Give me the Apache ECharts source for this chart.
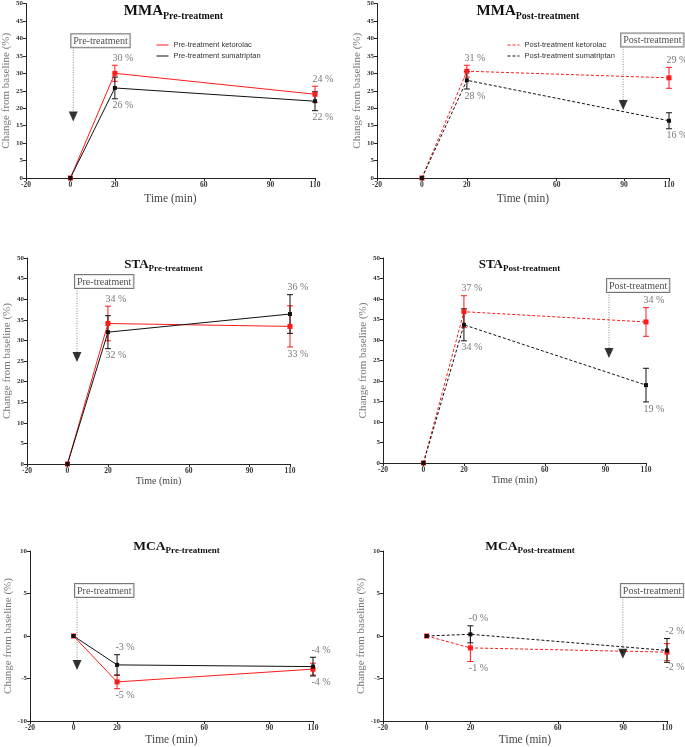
<!DOCTYPE html>
<html>
<head>
<meta charset="utf-8">
<script src="https://cdn.jsdelivr.net/npm/echarts@6/dist/echarts.min.js"></script>
<style>
  html, body { margin: 0; padding: 0; background: #fff; }
  #main { width: 685px; height: 747px; }
</style>
</head>
<body>
<div id="main"></div>
<script>
// time points and x tick labels
const times = [0, 20, 110];
const xTicks = [-20, 0, 20, 60, 90, 110];

// MMA pre-treatment
const mmaPreKet = [0, 30.0, 24.0];
const mmaPreKetErr = [0, 2.3, 2.3];
const mmaPreSum = [0, 25.8, 22.0];
const mmaPreSumErr = [0, 3.1, 2.7];
const mmaPreKetLbl = ['', '30 %', '24 %'];
const mmaPreSumLbl = ['', '26 %', '22 %'];

// MMA post-treatment
const mmaPostKet = [0, 30.6, 28.7];
const mmaPostKetErr = [0, 1.7, 3.0];
const mmaPostSum = [0, 28.0, 16.4];
const mmaPostSumErr = [0, 2.5, 2.3];
const mmaPostKetLbl = ['', '31 %', '29 %'];
const mmaPostSumLbl = ['', '28 %', '16 %'];

// STA pre-treatment
const staPreKet = [0, 34.1, 33.4];
const staPreKetErr = [0, 4.2, 5.0];
const staPreSum = [0, 32.0, 36.4];
const staPreSumErr = [0, 4.0, 4.7];
const staPreKetLbl = ['', '34 %', '33 %'];
const staPreSumLbl = ['', '32 %', '36 %'];

// STA post-treatment
const staPostKet = [0, 36.9, 34.4];
const staPostKetErr = [0, 3.9, 3.5];
const staPostSum = [0, 33.7, 19.0];
const staPostSumErr = [0, 3.9, 4.1];
const staPostKetLbl = ['', '37 %', '34 %'];
const staPostSumLbl = ['', '34 %', '19 %'];

// MCA pre-treatment
const mcaPreKet = [0, -5.4, -3.9];
const mcaPreKetErr = [0, 0.8, 0.7];
const mcaPreSum = [0, -3.4, -3.6];
const mcaPreSumErr = [0, 1.2, 1.1];
const mcaPreKetLbl = ['', '-5 %', '-4 %'];
const mcaPreSumLbl = ['', '-3 %', '-4 %'];

// MCA post-treatment
const mcaPostKet = [0, -1.4, -1.9];
const mcaPostKetErr = [0, 1.6, 1.0];
const mcaPostSum = [0, 0.2, -1.7];
const mcaPostSumErr = [0, 1.0, 1.4];
const mcaPostKetLbl = ['', '-1 %', '-2 %'];
const mcaPostSumLbl = ['', '-0 %', '-2 %'];

// treatment markers: [time, box bottom, arrow]
const mmaPreNote = [1.3, 37.5, 17.6];
const mmaPostNote = [89.6, 37.7, 20.9];
const staPreNote = [4.7, 42.7, 26.0];
const staPostNote = [91.7, 41.7, 26.8];
const mcaPreNote = [1.6, 4.6, -3.4];
const mcaPostNote = [89.8, 4.6, -2.1];

const RED = '#ff1a1a';
const BLACK = '#111';
const SERIF = '"Liberation Serif", "Times New Roman", serif';
const SANS = '"Liberation Sans", Arial, sans-serif';

const panels = [
  {vessel: 'MMA', phase: 'Pre-treatment', grid: [22, 3, 293, 175], yMin: 0, yMax: 50, titleTop: -1, titleSize: 15,
   ket: mmaPreKet, ketErr: mmaPreKetErr, sum: mmaPreSum, sumErr: mmaPreSumErr,
   ketLbl: mmaPreKetLbl, sumLbl: mmaPreSumLbl, note: mmaPreNote, dashed: false, nameGap: 15},
  {vessel: 'MMA', phase: 'Post-treatment', grid: [377, 3, 292, 175], yMin: 0, yMax: 50, titleTop: -1, titleSize: 15,
   ket: mmaPostKet, ketErr: mmaPostKetErr, sum: mmaPostSum, sumErr: mmaPostSumErr,
   ketLbl: mmaPostKetLbl, sumLbl: mmaPostSumLbl, note: mmaPostNote, dashed: true, nameGap: 15},
  {vessel: 'STA', phase: 'Pre-treatment', grid: [27, 258, 263, 206], yMin: 0, yMax: 50, titleTop: 253, titleSize: 13,
   ket: staPreKet, ketErr: staPreKetErr, sum: staPreSum, sumErr: staPreSumErr,
   ketLbl: staPreKetLbl, sumLbl: staPreSumLbl, note: staPreNote, dashed: false, nameGap: 12},
  {vessel: 'STA', phase: 'Post-treatment', grid: [383, 258, 263, 205], yMin: 0, yMax: 50, titleTop: 253, titleSize: 13,
   ket: staPostKet, ketErr: staPostKetErr, sum: staPostSum, sumErr: staPostSumErr,
   ketLbl: staPostKetLbl, sumLbl: staPostSumLbl, note: staPostNote, dashed: true, nameGap: 12},
  {vessel: 'MCA', phase: 'Pre-treatment', grid: [30, 551, 283, 171], yMin: -10, yMax: 10, titleTop: 535, titleSize: 13.5,
   ket: mcaPreKet, ketErr: mcaPreKetErr, sum: mcaPreSum, sumErr: mcaPreSumErr,
   ketLbl: mcaPreKetLbl, sumLbl: mcaPreSumLbl, note: mcaPreNote, dashed: false, nameGap: 13},
  {vessel: 'MCA', phase: 'Post-treatment', grid: [383, 551, 284, 171], yMin: -10, yMax: 10, titleTop: 535, titleSize: 13.5,
   ket: mcaPostKet, ketErr: mcaPostKetErr, sum: mcaPostSum, sumErr: mcaPostSumErr,
   ketLbl: mcaPostKetLbl, sumLbl: mcaPostSumLbl, note: mcaPostNote, dashed: true, nameGap: 13}
];

const grids = [], xAxes = [], yAxes = [], titles = [], series = [];

function errSeries(i, vals, errs, color) {
  return {
    type: 'custom', xAxisIndex: i, yAxisIndex: i, silent: true, z: 3,
    data: times.map((t, k) => [t, vals[k] - errs[k], vals[k] + errs[k]]).filter((d, k) => errs[k] > 0),
    encode: {x: 0, y: [1, 2]},
    renderItem: function (params, api) {
      const lo = api.coord([api.value(0), api.value(1)]);
      const hi = api.coord([api.value(0), api.value(2)]);
      const w = 3;
      const st = {stroke: color, lineWidth: 1};
      return {type: 'group', children: [
        {type: 'line', shape: {x1: lo[0], y1: lo[1], x2: hi[0], y2: hi[1]}, style: st},
        {type: 'line', shape: {x1: lo[0] - w, y1: lo[1], x2: lo[0] + w, y2: lo[1]}, style: st},
        {type: 'line', shape: {x1: hi[0] - w, y1: hi[1], x2: hi[0] + w, y2: hi[1]}, style: st}
      ]};
    }
  };
}

panels.forEach(function (p, i) {
  grids.push({left: p.grid[0], top: p.grid[1], width: p.grid[2], height: p.grid[3]});
  xAxes.push({
    type: 'value', gridIndex: i, min: -20, max: 110,
    name: 'Time (min)', nameLocation: 'middle', nameGap: p.nameGap,
    nameTextStyle: {fontFamily: SERIF, fontSize: i < 2 || i > 3 ? 11.5 : 10, color: '#444'},
    axisLine: {onZero: false, lineStyle: {color: '#222', width: 1}},
    axisTick: {customValues: xTicks, length: 3, lineStyle: {color: '#222'}},
    axisLabel: {customValues: xTicks, fontFamily: SERIF, fontWeight: 'bold', fontSize: 7.5, color: '#333', margin: 3},
    splitLine: {show: false}
  });
  yAxes.push({
    type: 'value', gridIndex: i, min: p.yMin, max: p.yMax, interval: 5,
    name: 'Change from baseline (%)', nameLocation: 'middle', nameGap: i < 2 ? 10 : 13,
    nameTextStyle: {fontFamily: SERIF, fontSize: 11, color: '#777'},
    axisLine: {show: true, onZero: false, lineStyle: {color: '#222', width: 1}},
    axisTick: {show: true, length: 3, lineStyle: {color: '#222'}},
    axisLabel: {fontFamily: SERIF, fontWeight: 'bold', fontSize: 7, color: '#333', margin: 3},
    splitLine: {show: false}
  });
  const subSize = Math.round(p.titleSize * 0.68);
  titles.push({
    text: '{a|' + p.vessel + '}{b|' + p.phase + '}',
    left: p.grid[0] + p.grid[2] / 2, top: p.titleTop, textAlign: 'center',
    textStyle: {
      rich: {
        a: {fontFamily: SERIF, fontWeight: 'bold', fontSize: p.titleSize, color: '#111', verticalAlign: 'top', lineHeight: p.titleSize + 1},
        b: {fontFamily: SERIF, fontWeight: 'bold', fontSize: subSize, color: '#111', verticalAlign: 'top',
            padding: [Math.round(p.titleSize * 0.47), 0, 0, 0], lineHeight: subSize}
      }
    }
  });

  const dash = p.dashed ? [3, 2] : 'solid';
  const groups = [
    {name: p.phase + ' ketorolac', vals: p.ket, errs: p.ketErr, lbls: p.ketLbl, other: p.sum, color: RED, size: 5},
    {name: p.phase + ' sumatriptan', vals: p.sum, errs: p.sumErr, lbls: p.sumLbl, other: p.ket, color: BLACK, size: 4}
  ];
  groups.forEach(function (g) {
    series.push(errSeries(i, g.vals, g.errs, g.color));
    series.push({
      type: 'line', name: g.name, xAxisIndex: i, yAxisIndex: i, z: 4,
      symbol: 'rect', symbolSize: g.size, showAllSymbol: true,
      lineStyle: {color: g.color, width: 1, type: dash},
      itemStyle: {color: g.color},
      data: times.map((t, k) => [t, g.vals[k]])
    });
    // value labels placed at the end of each error bar
    const lblData = [];
    times.forEach(function (t, k) {
      if (!g.lbls[k]) return;
      const up = g.vals[k] >= g.other[k];
      lblData.push({
        value: [t, up ? g.vals[k] + g.errs[k] : g.vals[k] - g.errs[k]],
        label: {show: true, formatter: g.lbls[k], position: up ? 'top' : 'bottom', distance: 2, offset: [8, 0]}
      });
    });
    series.push({
      type: 'scatter', xAxisIndex: i, yAxisIndex: i, silent: true, z: 5,
      symbolSize: 0, itemStyle: {color: 'rgba(0,0,0,0)'},
      label: {fontFamily: SERIF, fontSize: 10, color: '#555'},
      data: lblData
    });
  });

  // treatment box, dotted line and arrow
  const n = p.note;
  series.push({
    type: 'line', xAxisIndex: i, yAxisIndex: i, silent: true, z: 2,
    symbol: 'none', lineStyle: {color: '#888', width: 1, type: [1, 1.5]},
    data: [[n[0], n[1]], [n[0], n[2]]]
  });
  series.push({
    type: 'scatter', xAxisIndex: i, yAxisIndex: i, silent: true, z: 6,
    symbol: 'triangle', symbolRotate: 180, symbolSize: [9, 10],
    itemStyle: {color: '#000'},
    data: [[n[0], n[2]]]
  });
  series.push({
    type: 'scatter', xAxisIndex: i, yAxisIndex: i, silent: true, z: 6,
    symbolSize: 0, itemStyle: {color: 'rgba(0,0,0,0)'},
    label: {
      show: true, formatter: p.phase, position: [-2, 0], align: 'left', verticalAlign: 'bottom',
      fontFamily: SERIF, fontSize: 10, color: '#222', backgroundColor: '#fff',
      borderColor: '#555', borderWidth: 1, padding: [2, 2, 1, 2]
    },
    data: [[n[0], n[1]]]
  });
});

const legendBase = {
  orient: 'vertical', top: 36, itemWidth: 12, itemHeight: 7, itemGap: 3, itemTextGap: 6,
  itemStyle: {opacity: 0},
  lineStyle: {width: 1},
  textStyle: {fontFamily: SANS, fontSize: 7.5, color: '#333'}
};

const chart = echarts.init(document.getElementById('main'), null, {renderer: 'canvas'});
chart.setOption({
  animation: false,
  backgroundColor: '#fff',
  title: titles,
  legend: [
    Object.assign({}, legendBase, {left: 151, data: ['Pre-treatment ketorolac', 'Pre-treatment sumatriptan']}),
    Object.assign({}, legendBase, {left: 502, data: ['Post-treatment ketorolac', 'Post-treatment sumatriptan']})
  ],
  grid: grids,
  xAxis: xAxes,
  yAxis: yAxes,
  series: series
});
</script>
</body>
</html>
